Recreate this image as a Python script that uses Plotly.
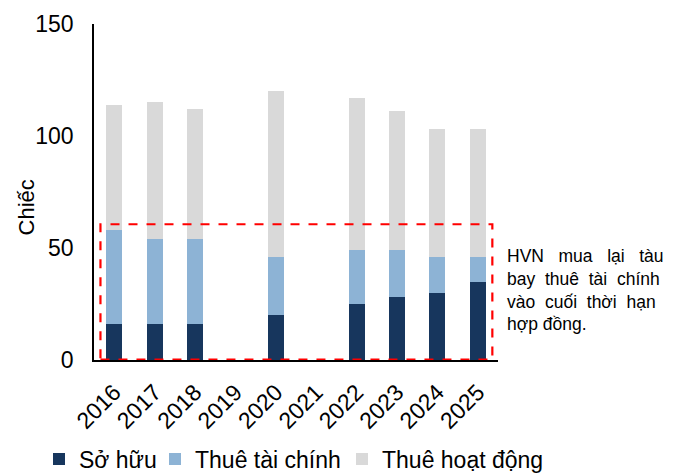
import plotly.graph_objects as go

years = ["2016", "2017", "2018", "2019", "2020", "2021", "2022", "2023", "2024", "2025"]
so_huu = [16, 16, 16, None, 20, None, 25, 28, 30, 35]
thue_tai_chinh = [42, 38, 38, None, 26, None, 24, 21, 16, 11]
thue_hoat_dong = [56, 61, 58, None, 74, None, 68, 62, 57, 57]

names = ["Sở hữu", "Thuê tài chính", "Thuê hoạt động"]
colors = ["#17365D", "#8DB3D5", "#D9D9D9"]
series = [so_huu, thue_tai_chinh, thue_hoat_dong]
legend_ids = ["legend", "legend2", "legend3"]

FONT = "Liberation Sans, Arial, sans-serif"
# the page body adds an 8px offset, so the figure is 8px smaller than the window
OFF = 8
W, H = 678 - OFF, 473 - OFF
legend_x = [39 - OFF, 155 - OFF, 342 - OFF]  # pixel left positions of legend entries

fig = go.Figure()
for n, c, v, lg in zip(names, colors, series, legend_ids):
    fig.add_trace(go.Bar(x=years, y=v, name=n, legend=lg,
                         marker=dict(color=c, line=dict(width=0))))

fig.add_shape(type="rect", xref="x", yref="y", x0=-0.34, x1=9.36, y0=0.2, y1=60.6,
              line=dict(color="#FF0000", width=2.2, dash="dash"), fillcolor="rgba(0,0,0,0)")

sp2 = " \u00a0\u00a0"
sp1 = " \u00a0"
note = ("HVN" + sp2 + "mua" + sp2 + "lại" + sp2 + "tàu<br>"
        "bay" + sp1 + "thuê" + sp1 + "tài" + sp1 + "chính<br>"
        "vào" + sp1 + "cuối" + sp1 + "thời" + sp1 + "hạn<br>"
        "hợp đồng.")
fig.add_annotation(xref="paper", yref="paper", x=1.0175, y=0.207, xanchor="left", yanchor="middle",
                   text=note, showarrow=False, align="left",
                   font=dict(family=FONT, size=17.5, color="#000000"))

# y-axis title
fig.add_annotation(xref="paper", yref="paper", x=-0.166, y=0.454, xanchor="center", yanchor="middle",
                   text="Chiếc", textangle=-90, showarrow=False,
                   font=dict(family=FONT, size=22, color="#000000"))

leg_common = dict(orientation="h", xref="container", yref="container", xanchor="left",
                  yanchor="middle", y=1 - (459 - OFF) / H,
                  font=dict(size=23, family=FONT, color="#000000"),
                  bgcolor="rgba(0,0,0,0)")

fig.update_layout(
    barmode="stack",
    bargap=0.6,
    width=W, height=H,
    margin=dict(l=94 - OFF, r=180, t=24 - OFF, b=113, autoexpand=False),
    plot_bgcolor="white", paper_bgcolor="white",
    font=dict(family=FONT, size=23, color="#000000"),
    legend=dict(x=legend_x[0] / W, **leg_common),
    legend2=dict(x=legend_x[1] / W, **leg_common),
    legend3=dict(x=legend_x[2] / W, **leg_common),
    showlegend=True,
)
fig.update_xaxes(type="category", showline=True, linecolor="black", linewidth=1.5,
                 tickangle=-45, ticks="", showgrid=False, tickfont=dict(size=23),
                 automargin=False, ticklabelstandoff=8)
fig.update_yaxes(range=[0, 150], tickvals=[0, 50, 100, 150], showline=True, linecolor="black",
                 linewidth=1.5, ticks="", showgrid=False, zeroline=False,
                 tickfont=dict(size=23), automargin=False, ticklabelstandoff=14)

fig.write_html("out.html")
